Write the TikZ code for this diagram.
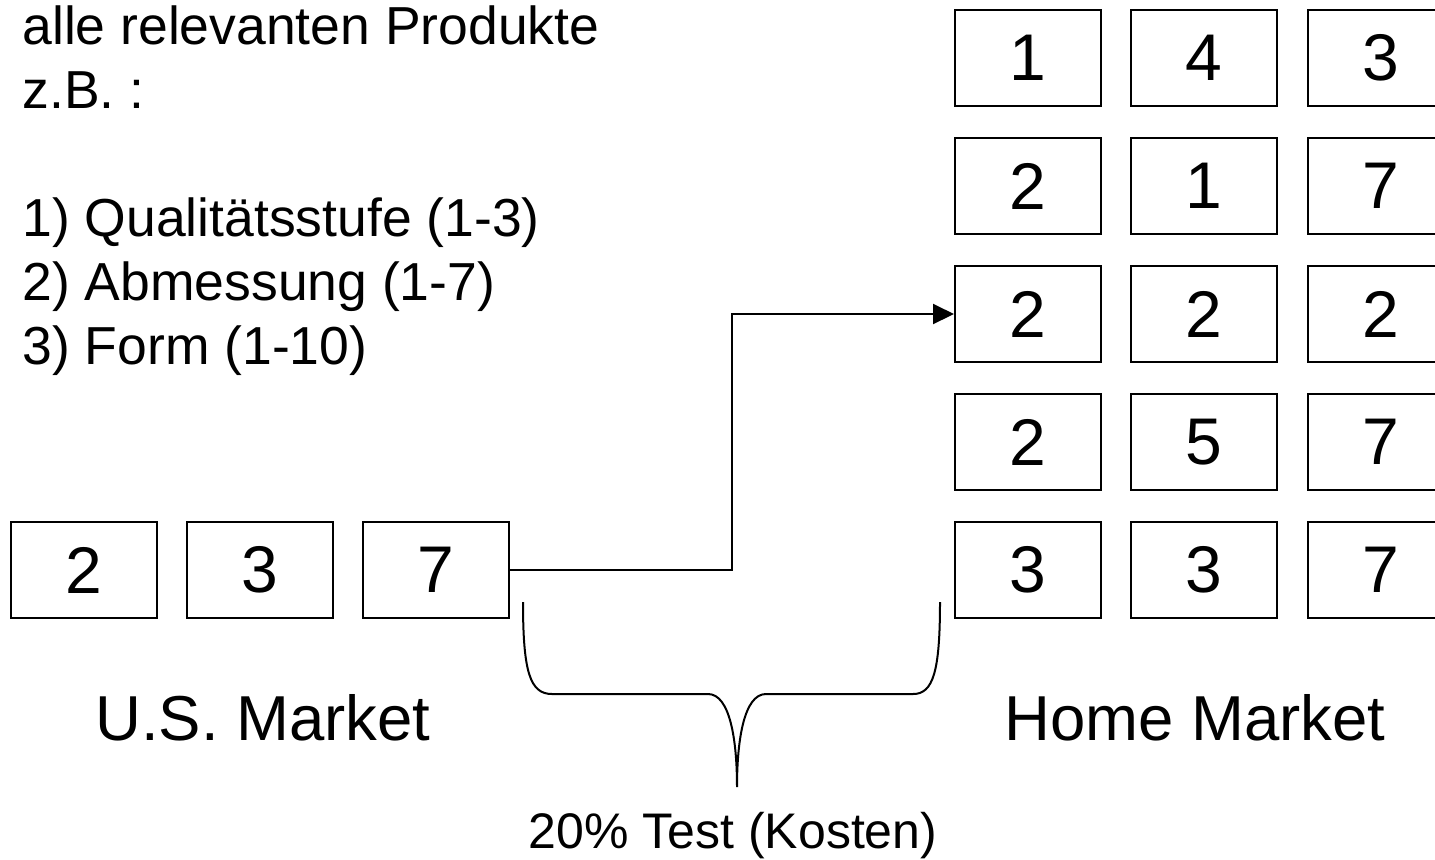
\documentclass[tikz,border=0pt]{standalone}
\usepackage{fontspec}
\setmainfont{Liberation Sans}
\usetikzlibrary{arrows.meta}

\tikzset{
    cell/.style={draw, line width=1pt, minimum width=73pt, minimum height=48pt,
        inner sep=0pt, font=\fontsize{33}{40}\selectfont},
    note/.style={anchor=base west, inner sep=0pt, font=\fontsize{26.75}{32}\selectfont},
    market/.style={anchor=base, inner sep=0pt, font=\fontsize{31.75}{38}\selectfont}
}

\begin{document}
\begin{tikzpicture}[x=0.5pt, y=-0.5pt]
    \useasboundingbox (0,0) rectangle (1435,859);

    % Description
    \node[note] (l1) at (22,44) {alle relevanten Produkte};
    \node[note] (l2) at (22,108) {z.B. :};
    \node[note] (l3) at (22,236) {1) Qualitätsstufe (1-3)};
    \node[note] (l4) at (22,300) {2) Abmessung (1-7)};
    \node[note] (l5) at (22,364) {3) Form (1-10)};

    % U.S. market product
    \foreach \x/\v [count=\i] in {84/2, 260/3, 436/7} {
        \node[cell] (us\i) at (\x,570) {\v};
    }
    \node[market] (usm) at (263,740) {U.S. Market};

    % Home market products
    \foreach \y/\a/\b/\c [count=\r] in {58/1/4/3, 186/2/1/7, 314/2/2/2, 442/2/5/7, 570/3/3/7} {
        \node[cell] (h\r1) at (1028,\y) {\a};
        \node[cell] (h\r2) at (1204,\y) {\b};
        \node[cell] (h\r3) at (1381,\y) {\c};
    }
    \node[market] (hm) at (1195,740) {Home Market};

    % Link
    \coordinate (bend) at (732,570);
    \draw[line width=1pt, -{Triangle[length=10.5pt, width=10pt]}] (us3.east) -- (bend) |- (h31.west);

    % Brace
    \coordinate (bl) at (523,602);
    \coordinate (br) at (940,602);
    \coordinate (tip) at (737,787);
    \draw[line width=1pt] (bl) .. controls (523,672) and (530,694) .. (552,694) -- (708,694)
        .. controls (730,694) and (737,740) .. (tip)
        .. controls (737,740) and (744,694) .. (766,694) -- (913,694)
        .. controls (933,694) and (940,672) .. (br);
    \node[anchor=base, inner sep=0pt, font=\fontsize{25}{30}\selectfont] (cost) at (733,848) {20\% Test (Kosten)};
\end{tikzpicture}
\end{document}
